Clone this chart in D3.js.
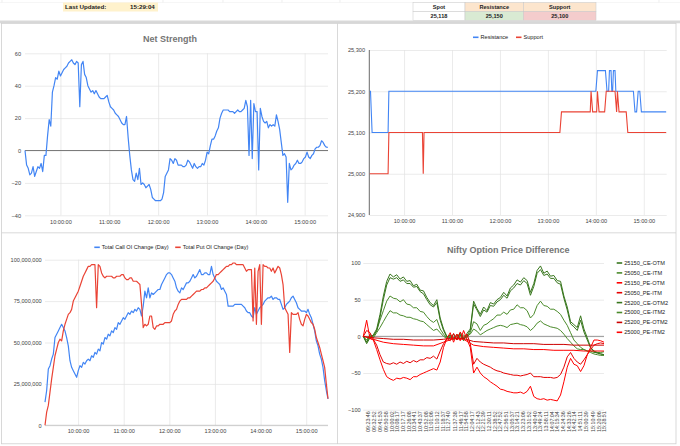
<!DOCTYPE html>
<html>
<head>
<meta charset="utf-8">
<script src="https://cdn.jsdelivr.net/npm/d3@7"></script>
<style>
body { margin: 0; background: #fff; }
svg { display: block; }
</style>
</head>
<body>
<script>
var sessionOpen = "09:16:30";
var sessionClose = "15:28:40";
var lastUpdated = "15:29:04";

var levelHeaders = ["Spot", "Resistance", "Support"];
var levelValues = [25118, 25150, 25100];

var hourTicks = ["10:00:00", "11:00:00", "12:00:00", "13:00:00", "14:00:00", "15:00:00"];

// net strength, evenly sampled through the session
var netTicks = [-40, -20, 0, 20, 40, 60];
var netStrength = [
  0,-9,-11,-15,-14,-10,-16,-13,-10,-11,
  -8,-13,-3,-3,9,19,15,36,40,45,
  44,49,46,48,50,51,52,54,55,56,
  54,53,55,54,27,53,55,47,45,40,
  38,36,37,35,37,35,33,32,32,32,
  33,34,30,27,26,25,23,22,21,19,
  17,16,16,21,8,-3,-12,-18,-19,-14,
  -18,-11,-21,-20,-21,-23,-22,-21,-24,-29,
  -30,-31,-31,-31,-31,-30,-26,-16,-14,-12,
  -5,-6,-8,-5,-6,-9,-9,-9,-10,-10,
  -9,-6,-7,-9,-11,-8,-10,-11,-10,-10,
  -8,-9,-6,-1,-2,3,7,7,9,12,
  14,20,23,25,25,25,25,24,24,24,
  23,24,25,24,24,25,26,31,27,-3,
  31,-5,29,24,24,-12,26,21,18,17,
  18,14,16,15,16,15,22,18,13,5,
  -3,-2,-4,-32,-8,-12,-11,-9,-8,-6,
  -8,-8,-7,-5,-4,-1,-4,-5,-3,-2,
  1,2,2,3,6,5,3,2,2
];

// resistance / support levels (time, level)
var levelTicks = [24900, 25000, 25100, 25200, 25300];
var resistance = [
  ["09:17",25200],["09:18",25200],["09:20",25100],["09:40",25100],["09:41",25200],
  ["14:00",25200],["14:02",25250],["14:12",25250],["14:14",25200],["14:16",25200],
  ["14:17",25250],["14:19",25250],["14:20",25200],["14:21",25200],["14:22",25250],
  ["14:24",25250],["14:25",25200],["14:47",25200],["14:49",25150],["14:51",25150],
  ["14:53",25200],["14:55",25200],["14:57",25150],["15:28",25150]
];
var support = [
  ["09:17",25000],["09:40",25000],["09:41",25100],["10:23",25100],["10:24",25000],
  ["10:25",25100],["13:15",25100],["13:17",25150],["13:53",25150],["13:54",25200],
  ["13:56",25150],["14:01",25150],["14:02",25200],["14:04",25150],["14:11",25150],
  ["14:13",25200],["14:24",25200],["14:26",25150],["14:27",25200],["14:29",25150],
  ["14:38",25150],["14:40",25100],["15:28",25100]
];

// total OI change, in millions
var oiTicks = [0, 25, 50, 75, 100];
var callOI = [
  14,21,34,36,40,43,53,55,57,59,
  61,59,57,53,48,39,35,33,31,29,
  33,36,35,38,37,39,40,39,42,41,
  44,43,46,45,50,49,53,52,55,54,
  57,56,59,58,62,61,63,65,64,66,
  68,67,69,68,70,69,71,70,66,72,
  81,77,83,77,80,79,80,81,82,82,
  85,87,89,91,92,92,91,89,87,83,
  81,80,83,82,84,86,86,87,89,91,
  89,90,92,94,91,91,92,92,91,91,
  96,91,89,87,86,85,82,83,81,79,
  72,72,72,72,73,73,73,73,73,72,
  71,69,68,68,66,65,71,67,69,71,
  72,73,75,76,77,77,78,76,77,77,
  76,76,73,70,71,73,74,75,77,78,
  76,74,71,70,69,69,69,68,70,67,
  65,61,57,51,48,43,40,35,27,21,
  16
];
var putOI = [
  0,8,12,20,28,35,42,46,50,52,
  51,57,61,64,67,68,70,75,77,79,
  81,84,87,90,92,94,96,96,97,97,
  97,71,97,96,92,90,89,90,90,90,
  90,89,89,90,90,90,91,91,89,88,
  88,89,89,87,87,87,86,85,73,59,
  61,60,61,66,66,59,58,60,60,61,
  61,61,62,62,62,62,63,67,69,70,
  73,75,76,76,76,76,77,77,78,79,
  80,81,81,81,82,82,83,83,84,85,
  86,87,89,91,91,92,93,94,95,96,
  96,97,97,98,98,97,97,97,97,97,
  95,93,94,94,94,63,95,61,93,97,
  61,97,96,96,95,95,93,95,92,94,
  96,95,91,85,71,69,67,44,68,67,
  67,67,68,64,61,60,64,67,66,64,
  62,61,58,53,50,47,43,39,35,25,
  16
];

// option price difference series
var priceTicks = [-100, -50, 0, 50, 100];
var priceNames = ["25150_CE-OTM","25050_CE-ITM","25150_PE-OTM","25050_PE-ITM",
                  "25200_CE-OTM2","25000_CE-ITM2","25200_PE-OTM2","25000_PE-ITM2"];
var ce25150 = [0,-10,-2,2,10,30,55,75,85,81,84,78,81,75,76,69,71,63,62,53,46,42,50,25,10,
  0,-2,3,-5,2,-6,4,10,48,38,30,40,35,46,44,50,53,60,55,66,70,77,74,80,76,
  60,72,90,96,86,89,82,83,76,75,55,40,20,16,12,28,10,-2,-15,-20,-22,-24,-25];
var ce25050 = [0,-5,2,0,8,22,35,48,55,52,51,47,50,44,43,39,39,34,33,27,22,19,23,10,3,
  -2,0,-4,3,-3,2,-2,5,20,17,8,15,17,21,24,29,29,33,30,36,37,43,39,39,35,
  25,30,42,48,42,41,37,37,34,30,22,15,5,-5,-10,-15,-18,-20,-20,-22,-22,-22,-21];
var pe25150 = [0,22,-3,-5,-18,-32,-45,-55,-58,-60,-57,-58,-56,-57,-59,-55,-55,-52,-50,-48,-46,-44,-46,-35,-15,
  -3,5,-8,3,-6,8,-4,-15,-50,-42,-50,-55,-58,-62,-65,-68,-72,-73,-75,-76,-77,-77,-76,-78,-75,
  -68,-82,-85,-86,-85,-87,-86,-87,-88,-80,-62,-42,-30,-38,-40,-48,-40,-25,-15,-5,-5,-6,-8];
var pe25050 = [0,8,5,-4,-12,-25,-35,-37,-38,-36,-38,-35,-37,-34,-36,-33,-35,-32,-32,-29,-30,-27,-31,-20,-10,
  -3,-6,4,-5,6,-2,3,-10,-38,-30,-35,-38,-40,-42,-45,-47,-48,-50,-51,-52,-53,-53,-54,-53,-52,
  -50,-55,-55,-55,-56,-56,-56,-57,-56,-52,-42,-28,-22,-30,-35,-38,-32,-25,-18,-12,-10,-9,-10];
var ce25200 = [0,-8,0,1,7,26,50,70,80,78,80,75,77,72,72,67,68,61,58,50,43,40,46,22,8,
  -1,2,-2,-3,4,-4,1,8,44,36,27,36,33,42,41,47,50,56,52,62,66,72,70,76,72,
  56,68,86,91,83,85,79,79,73,71,52,36,17,13,8,22,6,-5,-16,-21,-23,-24,-25];
var ce25000 = [0,-8,3,-2,5,12,20,28,35,32,32,29,28,26,26,24,23,21,20,16,12,8,10,5,0,
  -3,2,-5,0,4,-3,1,3,10,7,2,5,8,10,12,14,15,14,12,16,17,18,16,15,13,
  8,12,18,21,17,15,13,12,11,8,3,-3,-8,-13,-17,-18,-18,-20,-22,-24,-25,-26,-26];
var pe25200 = [0,-2,-3,-4,-4,-5,-5,-5,-4,-2,-3,-7,-8,-9,-9,-10,-10,-10,-11,-11,-11,-12,-12,-12,-12];
var pe25000 = [0,-4,-8,-10,-11,-12,-13,-13,-8,-3,-4,-12,-14,-15,-16,-17,-17,-18,-18,-19,-19,-19,-20,-20,-20];
var priceLabels = [
  "09:23:46","09:32:52","09:41:53","09:50:58","10:00:02","10:08:17","10:17:17","10:26:08",
  "10:34:41","10:43:37","10:52:08","11:01:06","11:10:12","11:18:37","11:27:40","11:37:38",
  "11:46:17","11:54:58","12:04:17","12:12:43","12:21:39","12:30:11","12:38:52","12:47:52",
  "12:56:51","13:05:37","13:14:21","13:23:06","13:31:52","13:40:40","13:49:24","13:58:11",
  "14:07:04","14:15:34","14:24:36","14:33:26","14:42:14","14:51:11","15:00:39","15:10:49",
  "15:20:06","15:28:51"
];

var font = "'Liberation Sans', Arial, Helvetica, sans-serif";
var parseT = d3.timeParse("%H:%M:%S");
var parseHM = d3.timeParse("%H:%M");
var fmtT = d3.timeFormat("%H:%M:%S");
var tOpen = parseT(sessionOpen), tClose = parseT(sessionClose);
var hours = hourTicks.map(parseT);
var blue = "#4285f4", red = "#ea4335";
var small = 5.6;

var svg = d3.select("body").append("svg")
  .attr("width", 680).attr("height", 446)
  .style("font-family", font);

// spreadsheet strip on top
[2, 163, 223, 282, 340, 659].forEach(function(x) {
  svg.append("line").attr("x1", x).attr("x2", x).attr("y1", 0).attr("y2", 2.5)
    .attr("stroke", "#e3e3e3").attr("stroke-width", 0.6);
});
svg.append("line").attr("x1", 0).attr("x2", 680).attr("y1", 2.5).attr("y2", 2.5)
  .attr("stroke", "#ececec").attr("stroke-width", 0.5);

svg.append("rect").attr("x", 63).attr("y", 2.5).attr("width", 95).attr("height", 9)
  .attr("fill", "#fff2cc");
svg.append("text").attr("x", 65).attr("y", 7).attr("dy", "0.35em")
  .attr("font-size", 6.2).attr("font-weight", "bold").attr("fill", "#222").text("Last Updated:");
svg.append("text").attr("x", 130).attr("y", 7).attr("dy", "0.35em")
  .attr("font-size", 6.2).attr("font-weight", "bold").attr("fill", "#222").text(lastUpdated);

var colX = [413, 465, 523.5, 596];
var headFill = ["#ffffff", "#fce5cd", "#fce5cd"];
var valFill = ["#ffffff", "#d9ead3", "#f4cccc"];
levelHeaders.forEach(function(h, i) {
  var w = colX[i + 1] - colX[i], cx = (colX[i] + colX[i + 1]) / 2;
  svg.append("rect").attr("x", colX[i]).attr("y", 2.5).attr("width", w).attr("height", 9)
    .attr("fill", headFill[i]).attr("stroke", "#c8c8c8").attr("stroke-width", 0.5);
  svg.append("rect").attr("x", colX[i]).attr("y", 11.5).attr("width", w).attr("height", 9)
    .attr("fill", valFill[i]).attr("stroke", "#c8c8c8").attr("stroke-width", 0.5);
  svg.append("text").attr("x", cx).attr("y", 7).attr("dy", "0.35em").attr("text-anchor", "middle")
    .attr("font-size", small).attr("font-weight", "bold").attr("fill", "#222").text(h);
  svg.append("text").attr("x", cx).attr("y", 16).attr("dy", "0.35em").attr("text-anchor", "middle")
    .attr("font-size", small).attr("font-weight", "bold").attr("fill", "#222")
    .text(d3.format(",")(levelValues[i]));
});

// frame of the chart panels
svg.append("rect").attr("x", 0).attr("y", 20.5).attr("width", 680).attr("height", 2.8).attr("fill", "#d9d9d9");
svg.append("rect").attr("x", 1.5).attr("y", 23.3).attr("width", 674.5).attr("height", 420.5)
  .attr("fill", "none").attr("stroke", "#cfcfcf").attr("stroke-width", 0.8);
svg.append("line").attr("x1", 337.5).attr("x2", 337.5).attr("y1", 23.3).attr("y2", 444)
  .attr("stroke", "#cfcfcf").attr("stroke-width", 0.8);
svg.append("line").attr("x1", 1.5).attr("x2", 676).attr("y1", 232.8).attr("y2", 232.8)
  .attr("stroke", "#cfcfcf").attr("stroke-width", 0.8);

function yAxis(g, x, y, ticks, fmt, pad) {
  var xr = x.range();
  var ax = g.append("g").attr("transform", "translate(" + xr[0] + ",0)")
    .call(d3.axisLeft(y).tickValues(ticks).tickFormat(fmt)
      .tickSize(-(xr[1] - xr[0])).tickPadding(pad));
  ax.select(".domain").remove();
  ax.selectAll("line").attr("stroke", "#e3e3e3").attr("stroke-width", 0.7);
  ax.selectAll("text").attr("font-size", small).attr("font-family", font).attr("fill", "#444");
}

function xAxis(g, x, y, pad) {
  var yr = y.range();
  var ax = g.append("g").attr("transform", "translate(0," + yr[0] + ")")
    .call(d3.axisBottom(x).tickValues(hours).tickFormat(fmtT)
      .tickSize(-(yr[0] - yr[1])).tickPadding(pad));
  ax.select(".domain").remove();
  ax.selectAll("line").attr("stroke", "#e3e3e3").attr("stroke-width", 0.7);
  ax.selectAll("text").attr("font-size", small).attr("font-family", font).attr("fill", "#444");
}

function title(txt, cx, cy) {
  svg.append("text").attr("x", cx).attr("y", cy).attr("dy", "0.35em").attr("text-anchor", "middle")
    .attr("font-size", 9).attr("font-weight", "bold").attr("fill", "#757575").text(txt);
}

function legendItem(x0, y0, color, txt) {
  svg.append("line").attr("x1", x0).attr("x2", x0 + 5.5).attr("y1", y0).attr("y2", y0)
    .attr("stroke", color).attr("stroke-width", 1.6);
  svg.append("text").attr("x", x0 + 7.5).attr("y", y0).attr("dy", "0.35em")
    .attr("font-size", small).attr("fill", "#222").text(txt);
}

function indexTime(n) {
  return d3.scaleLinear().domain([0, n - 1]).range([tOpen, tClose]);
}

// ---- Net Strength
var xa = d3.scaleTime().domain([tOpen, tClose]).range([25, 328]);
var ya = d3.scaleLinear().domain([-40, 60]).range([215.3, 53.3]);
var ga = svg.append("g");
title("Net Strength", 170, 39);
yAxis(ga, xa, ya, netTicks, d3.format("d"), 4);
xAxis(ga, xa, ya, 4.4);
ga.append("line").attr("x1", 25).attr("x2", 328).attr("y1", ya(0)).attr("y2", ya(0))
  .attr("stroke", "#6d6d6d").attr("stroke-width", 0.9);
var ia = indexTime(netStrength.length);
ga.append("path").datum(netStrength)
  .attr("fill", "none").attr("stroke", blue).attr("stroke-width", 1.2).attr("stroke-linejoin", "round")
  .attr("d", d3.line().x(function(d, i) { return xa(ia(i)); }).y(function(d) { return ya(d); }));

// ---- Resistance / Support
var xb = d3.scaleTime().domain([tOpen, tClose]).range([369.3, 666.7]);
var yb = d3.scaleLinear().domain([24900, 25300]).range([215, 50]);
var gb = svg.append("g");
yAxis(gb, xb, yb, levelTicks, d3.format(","), 4.3);
xAxis(gb, xb, yb, 4.4);
gb.append("line").attr("x1", 369.3).attr("x2", 369.3).attr("y1", 50).attr("y2", 215)
  .attr("stroke", "#444").attr("stroke-width", 0.8);
var levelLine = d3.line().x(function(d) { return xb(parseHM(d[0])); }).y(function(d) { return yb(d[1]); });
gb.append("path").datum(resistance).attr("fill", "none").attr("stroke", blue).attr("stroke-width", 1.1).attr("d", levelLine);
gb.append("path").datum(support).attr("fill", "none").attr("stroke", red).attr("stroke-width", 1.1).attr("d", levelLine);
legendItem(473, 37.3, blue, "Resistance");
legendItem(516, 37.3, red, "Support");

// ---- Total OI change
var xc = d3.scaleTime().domain([tOpen, tClose]).range([45, 328]);
var yc = d3.scaleLinear().domain([0, 100]).range([425.3, 259.7]);
var gc = svg.append("g");
yAxis(gc, xc, yc, oiTicks, function(v) { return d3.format(",")(v * 1e6); }, 3.3);
xAxis(gc, xc, yc, 3.4);
gc.append("line").attr("x1", 45).attr("x2", 328).attr("y1", yc(0)).attr("y2", yc(0))
  .attr("stroke", "#bdbdbd").attr("stroke-width", 0.8);
var ic = indexTime(callOI.length);
var oiLine = d3.line().x(function(d, i) { return xc(ic(i)); }).y(function(d) { return yc(d); });
gc.append("path").datum(callOI).attr("fill", "none").attr("stroke", blue).attr("stroke-width", 1.2)
  .attr("stroke-linejoin", "round").attr("d", oiLine);
gc.append("path").datum(putOI).attr("fill", "none").attr("stroke", red).attr("stroke-width", 1.2)
  .attr("stroke-linejoin", "round").attr("d", oiLine);
legendItem(94.3, 247.3, blue, "Total Call OI Change (Day)");
legendItem(175.2, 247.3, red, "Total Put OI Change (Day)");

// ---- Nifty Option Price Difference
var xd = d3.scaleTime().domain([tOpen, tClose]).range([363.3, 604]);
var yd = d3.scaleLinear().domain([-100, 100]).range([409.7, 263]);
var gd = svg.append("g");
title("Nifty Option Price Difference", 508.3, 249.7);
yAxis(gd, xd, yd, priceTicks, d3.format("d"), 2.6);
gd.append("line").attr("x1", 363.3).attr("x2", 604).attr("y1", yd(0)).attr("y2", yd(0))
  .attr("stroke", "#8a8a8a").attr("stroke-width", 0.9);
var xl = gd.append("g").attr("transform", "translate(0,409.7)")
  .call(d3.axisBottom(xd).tickValues(priceLabels.map(parseT)).tickFormat(fmtT).tickSize(0));
xl.select(".domain").remove();
xl.selectAll("text").attr("font-size", 5.3).attr("font-family", font).attr("fill", "#444")
  .attr("transform", "rotate(-90)").attr("x", -1.6).attr("y", 0).attr("dy", "0.35em")
  .style("text-anchor", "end");

var priceData = [ce25150, ce25050, pe25150, pe25050, ce25200, ce25000, pe25200, pe25000];
var priceColors = ["#38761d", "#4b8b2b", "#ff0000", "#e60000", "#38761d", "#4b8b2b", "#cc0000", "#ff0000"];
var drawOrder = [5, 1, 4, 0, 7, 6, 3, 2];
drawOrder.forEach(function(k) {
  var vals = priceData[k], it = indexTime(vals.length);
  gd.append("path").datum(vals).attr("fill", "none").attr("stroke", priceColors[k])
    .attr("stroke-width", 1).attr("stroke-linejoin", "round")
    .attr("d", d3.line().x(function(d, i) { return xd(it(i)); }).y(function(d) { return yd(d); }));
});
priceNames.forEach(function(n, i) {
  legendItem(616.7, 263 + i * 9.9, priceColors[i], n);
});
</script>
</body>
</html>
